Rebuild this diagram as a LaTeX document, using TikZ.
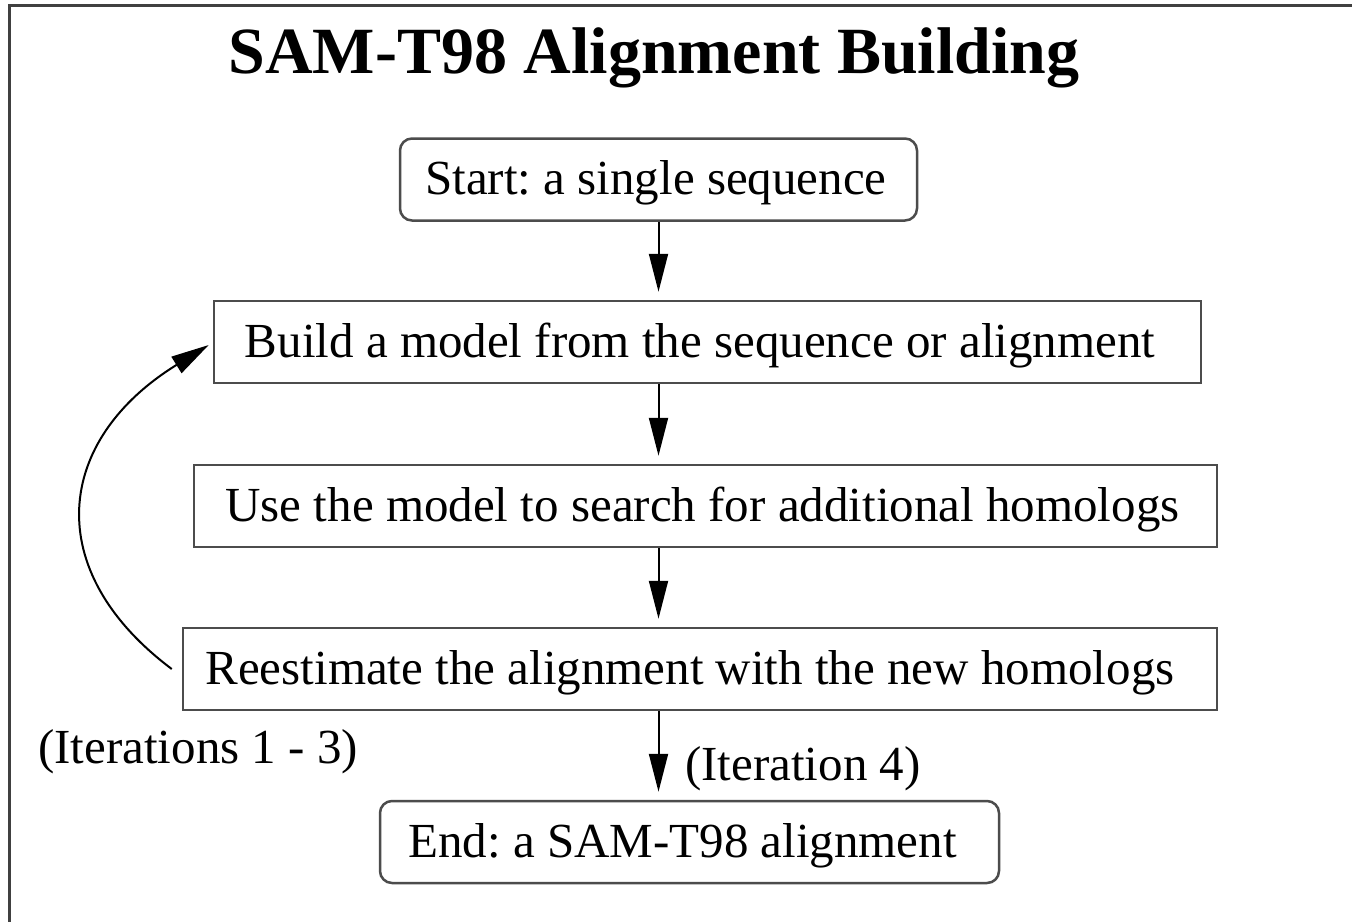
\documentclass[tikz,border=0pt]{standalone}
\usepackage{fontspec}
\setmainfont{Liberation Serif}
\usetikzlibrary{arrows.meta}
\frenchspacing

\tikzset{
  stepbox/.style={draw=black!70, line width=2.5pt, minimum height=82pt,
    inner sep=0pt, text height=42pt, text depth=12pt,
    font=\fontsize{49}{56}\selectfont},
  roundbox/.style={stepbox, rounded corners=12pt},
  flow/.style={draw=black, line width=2pt,
    -{Triangle[length=38pt,width=19pt]}},
  note/.style={inner sep=0pt, anchor=base west,
    font=\fontsize{49}{56}\selectfont},
  frame/.style={draw=black!75, line width=3pt}
}

\begin{document}
\begin{tikzpicture}[x=1pt, y=-1pt]
  \clip (0,0) rectangle (1352,921);
  \fill[white] (0,0) rectangle (1352,921);
  \draw[frame] (9,5) rectangle (1400,1000);

  \node[anchor=base, inner sep=0pt, font=\fontsize{66}{76}\selectfont\bfseries]
    (title) at (654,73) {SAM-T98 Alignment Building};

  % boxes keep their fixed size; trailing kerns nudge the text a little left
  \node[roundbox, minimum width=517pt] (start) at (658.5,179.5)
    {Start: a single sequence\kern5pt};
  \node[stepbox, minimum width=987pt] (build) at (707.5,342)
    {Build a model from the sequence or alignment\kern15pt};
  \node[stepbox, minimum width=1023pt] (use) at (705.5,506)
    {Use the model to search for additional homologs\kern6pt};
  \node[stepbox, minimum width=1034pt] (reest) at (700,669)
    {Reestimate the alignment with the new homologs\kern20pt};
  \node[roundbox, minimum width=619pt] (end) at (689.5,842)
    {End: a SAM-T98 alignment\kern14pt};

  \node[note] (iterloop) at (38,763) {(Iterations 1 - 3)};
  \node[note] (iterlast) at (685,780) {(Iteration 4)};

  % main downward flow along one vertical line
  \draw[flow, shorten >=8pt] (start.south) -- (start.south |- build.north);
  \draw[flow, shorten >=8pt] (build.south -| start.south) -- (use.north -| start.south);
  \draw[flow, shorten >=8pt] (use.south -| start.south) -- (reest.north -| start.south);
  \draw[flow, shorten >=8pt] (reest.south -| start.south) -- (end.north -| start.south);

  % feedback loop from the reestimation back to model building
  \coordinate (loopstart) at ([xshift=-10pt]reest.west);
  \coordinate (loopend) at ([xshift=-4pt,yshift=-3pt]build.west);
  \draw[flow] (loopstart) .. controls (40,570) and (55,440) .. (loopend);
\end{tikzpicture}
\end{document}
